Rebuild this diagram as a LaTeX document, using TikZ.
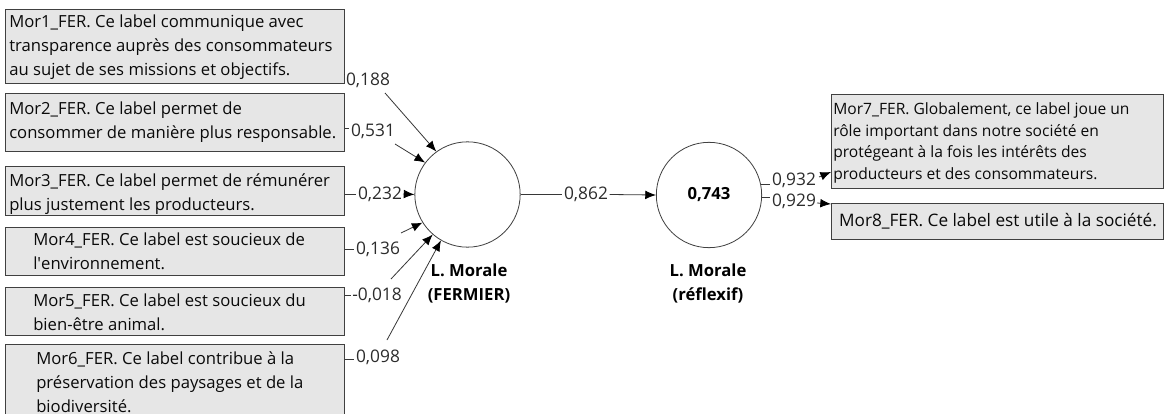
\documentclass[tikz,border=0pt]{standalone}
\usepackage{fontspec}
\setmainfont{Open Sans}
\usetikzlibrary{arrows.meta}
\definecolor{boxfill}{RGB}{230,230,230}
\definecolor{boxline}{RGB}{64,64,64}
\definecolor{txt}{RGB}{10,10,10}
\definecolor{lnk}{RGB}{55,55,55}
\begin{document}
\begin{tikzpicture}[x=0.75pt,y=-0.75pt,
  itembox/.style={draw=boxline, fill=boxfill, line width=0.7pt, anchor=north west, inner sep=0pt},
  itemtext/.style={anchor=west, align=left, inner sep=0pt, text=txt, font=\fontsize{12.5}{18}\selectfont},
  rtext/.style={anchor=west, align=left, inner sep=0pt, text=txt, font=\fontsize{11.7}{16.3}\selectfont},
  latent/.style={circle, draw=boxline, line width=0.6pt, minimum size=79pt, inner sep=0pt, font=\bfseries\fontsize{12.5}{15}\selectfont},
  lvname/.style={align=center, inner sep=0pt, font=\bfseries\fontsize{12.5}{18}\selectfont},
  coef/.style={fill=white, inner sep=1pt, text=lnk!80!black, font=\fontsize{13}{15}\selectfont},
  conn/.style={draw=lnk, line width=0.6pt},
  arr/.style={draw=lnk, line width=0.6pt, -{Latex[length=8pt,width=6.5pt,color=black]}}]
\useasboundingbox (0,0) rectangle (1165,414);
\clip (0,0) rectangle (1165,414);
\fill[white] (0,0) rectangle (1165,414);

% indicator boxes (left)
\node[itembox, minimum width=254.25pt, minimum height=55.5pt] (b1) at (5,9) {};
\node[itembox, minimum width=254.25pt, minimum height=43.5pt] (b2) at (5,93) {};
\node[itembox, minimum width=254.25pt, minimum height=36.75pt] (b3) at (5,166) {};
\node[itembox, minimum width=254.25pt, minimum height=36pt] (b4) at (5,227) {};
\node[itembox, minimum width=254.25pt, minimum height=36pt] (b5) at (5,287) {};
\node[itembox, minimum width=254.25pt, minimum height=57pt] (b6) at (5,344) {};

\node[itemtext] (t1) at (9,47) {Mor1\_FER. Ce label communique avec\\transparence auprès des consommateurs\\au sujet de ses missions et objectifs.};
\node[itemtext] (t2) at (9,122) {Mor2\_FER. Ce label permet de\\consommer de manière plus responsable.};
\node[itemtext] (t3) at (9,194) {Mor3\_FER. Ce label permet de rémunérer\\plus justement les producteurs.};
\node[itemtext] (t4) at (33,251) {Mor4\_FER. Ce label est soucieux de\\l\textquotesingle environnement.};
\node[itemtext] (t5) at (33,312) {Mor5\_FER. Ce label est soucieux du\\bien-être animal.};
\node[itemtext] (t6) at (36,382) {Mor6\_FER. Ce label contribue à la\\préservation des paysages et de la\\biodiversité.};

% latent variables
\node[latent] (c1) at (467.5,194.5) {};
\node[latent] (c2) at (709,195) {0,743};
\node[lvname] (n1) at (469,283) {L. Morale\\(FERMIER)};
\node[lvname] (n2) at (708,283) {L. Morale\\(réflexif)};

% indicator boxes (right)
\node[itembox, minimum width=249pt, minimum height=70.5pt] (b7) at (831,94) {};
\node[itembox, minimum width=249pt, minimum height=27pt] (b8) at (831,203) {};
\node[rtext] (t7) at (833,143) {Mor7\_FER. Globalement, ce label joue un\\rôle important dans notre société en\\protégeant à la fois les intérêts des\\producteurs et des consommateurs.};
\node[rtext, anchor=center, font=\fontsize{12.9}{16}\selectfont] (t8) at (998,221) {Mor8\_FER. Ce label est utile à la société.};

% coefficients (left)
\node[coef] (l1) at (368,80) {0,188};
\node[coef] (l2) at (373,131) {0,531};
\node[coef] (l3) at (380,194) {0,232};
\node[coef] (l4) at (378,249) {0,136};
\node[coef] (l5) at (377,295) {-0,018};
\node[coef] (l6) at (378,357) {0,098};

\coordinate (s1) at (385,93);
\coordinate (s2) at (395,144);
\coordinate (s3) at (403,194);
\coordinate (s4) at (401,233);
\coordinate (s5) at (391,279);
\coordinate (s6) at (387,340);

\draw[conn] (b1.east |- 0,74) -- (l1.west |- 0,74);
\draw[conn] (b2.east |- 0,128) -- (l2.west |- 0,128);
\draw[conn] (b3.east |- 0,194) -- (l3.west |- 0,194);
\draw[conn] (b4.east |- 0,249) -- (l4.west |- 0,249);
\draw[conn] (b5.east |- 0,295) -- (l5.west |- 0,295);
\draw[conn] (b6.east |- 0,359) -- (l6.west |- 0,359);

\draw[arr] (s1) -- (c1.126);
\draw[arr] (s2) -- (c1.143);
\draw[arr] (s3) -- (c1.180);
\draw[arr] (s4) -- (c1.212);
\draw[arr] (s5) -- (c1.229);
\draw[arr] (s6) -- (c1.240);

% structural path
\node[coef] (l0) at (586,194.5) {0,862};
\draw[conn] (c1.east) -- (l0.west);
\draw[arr] (l0.east) -- (c2.west);

% coefficients (right)
\node[coef] (l7) at (794,180) {0,932};
\node[coef] (l8) at (794,201) {0,929};
\draw[conn] (c2.12) -- (l7.west |- c2.12);
\coordinate (s7) at (819,177);
\draw[arr] (s7) -- (b7.west |- 0,172);
\draw[conn] (c2.-3) -- (l8.west |- c2.-3);
\coordinate (s8) at (817,203);
\draw[arr] (s8) -- (b8.west |- 0,204);
\end{tikzpicture}
\end{document}
